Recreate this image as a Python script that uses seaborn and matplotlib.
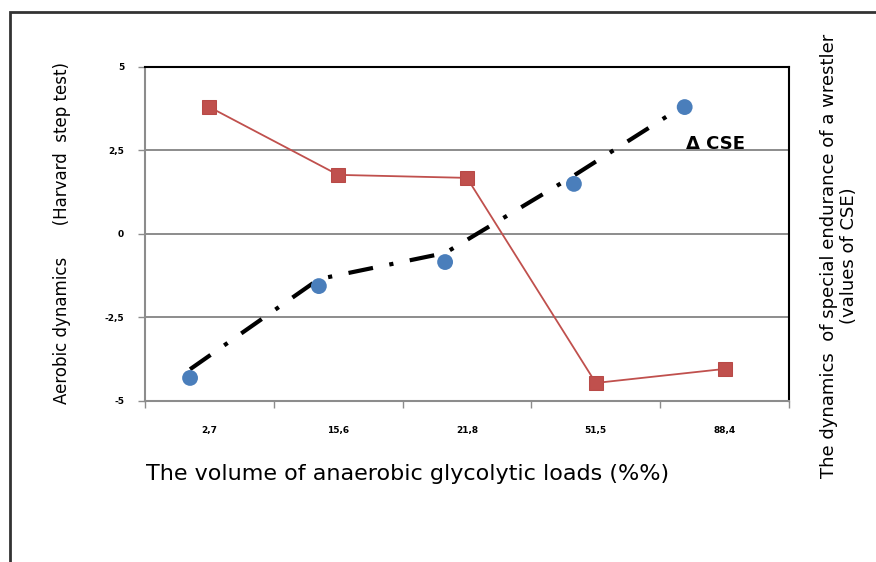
import numpy as np
import pandas as pd
import matplotlib.pyplot as plt
import matplotlib.patches as patches
import seaborn as sns

# Data
categories = ['2,7', '15,6', '21,8', '51,5', '88,4']
aerobic = [3.8, 1.77, 1.68, -4.46, -4.04]           # red squares
cse_pos = [-0.15, 0.85, 1.83, 2.83, 3.69]           # blue points sit left of category centres
cse_points = [-4.31, -1.56, -0.84, 1.50, 3.80]      # blue circles
cse_trend = [-4.05, -1.35, -0.57, 1.75, 3.86]       # dash-dot line
yticks = [-5, -2.5, 0, 2.5, 5]
ytick_labels = ['-5', '-2,5', '0', '2,5', '5']

red_df = pd.DataFrame({'x': np.arange(len(categories)), 'y': aerobic})
blue_df = pd.DataFrame({'x': cse_pos, 'y': cse_points, 't': cse_trend})

sns.set_theme(style="white")
plt.rcParams['font.family'] = ['DejaVu Sans']
plt.rcParams['text.color'] = 'black'
plt.rcParams['xtick.labelcolor'] = 'black'
plt.rcParams['ytick.labelcolor'] = 'black'

fig = plt.figure(figsize=(8.76, 5.62), dpi=100)
ax = fig.add_axes([0.1655, 0.2865, 0.7352, 0.5943])

# outer frame of the picture
fig.patches.append(patches.Rectangle((10 / 876, -0.05), 1.1, 1 - 12 / 562 + 0.05,
                                     transform=fig.transFigure, fill=False,
                                     edgecolor='#333333', linewidth=2))

for yv in [-2.5, 0, 2.5]:
    ax.axhline(yv, color='#8c8c8c', linewidth=1.4, zorder=0)

sns.lineplot(data=blue_df, x='x', y='t', ax=ax, color='black', linewidth=3,
             dashes=False, zorder=3)
ax.lines[-1].set_dashes([6, 4, 1, 4])
sns.scatterplot(data=blue_df, x='x', y='y', ax=ax, color='#4a7ebb', s=130,
                edgecolor='none', zorder=4)
sns.lineplot(data=red_df, x='x', y='y', ax=ax, color='#c0504d', linewidth=1.3,
             marker='s', markersize=10, markeredgecolor='#b84a47', zorder=5)

ax.set_xlim(-0.5, 4.5)
ax.set_ylim(-5, 5)
ax.set_xticks(np.arange(len(categories)))
ax.set_xticklabels(categories, fontsize=6.5, fontweight='bold')
ax.set_yticks(yticks)
ax.set_yticklabels(ytick_labels, fontsize=6.5, fontweight='bold')
ax.tick_params(axis='y', left=True, length=5, width=1, color='#8c8c8c', pad=10)
ax.tick_params(axis='x', bottom=False, pad=12)
# minor ticks on category boundaries
ax.set_xticks(np.arange(-0.5, 5, 1), minor=True)
ax.tick_params(axis='x', which='minor', bottom=True, length=5, width=1, color='#8c8c8c')

ax.set_xlabel('')
ax.set_ylabel('')
for side in ['left', 'bottom']:
    ax.spines[side].set_color('#8c8c8c')
    ax.spines[side].set_linewidth(1.5)
for side in ['top', 'right']:
    ax.spines[side].set_color('black')
    ax.spines[side].set_linewidth(1.5)

ax.text(3.7, 2.55, '\u0394 CSE', fontsize=13, fontweight='bold', color='black',
        family=['Liberation Sans Narrow', 'DejaVu Sans'])

fig.text(408 / 876, 1 - 474 / 562, 'The volume of anaerobic glycolytic loads (%%)',
         ha='center', va='center', fontsize=16)
fig.text(62 / 876, 1 - 233 / 562, 'Aerobic dynamics      (Harvard  step test)',
         ha='center', va='center', rotation=90, fontsize=12)
fig.text(839 / 876, 1 - 256 / 562,
         'The dynamics  of special endurance of a wrestler\n(values of CSE)',
         ha='center', va='center', rotation=90, fontsize=13, linespacing=1.2)

fig.savefig('out.png', dpi=100)
